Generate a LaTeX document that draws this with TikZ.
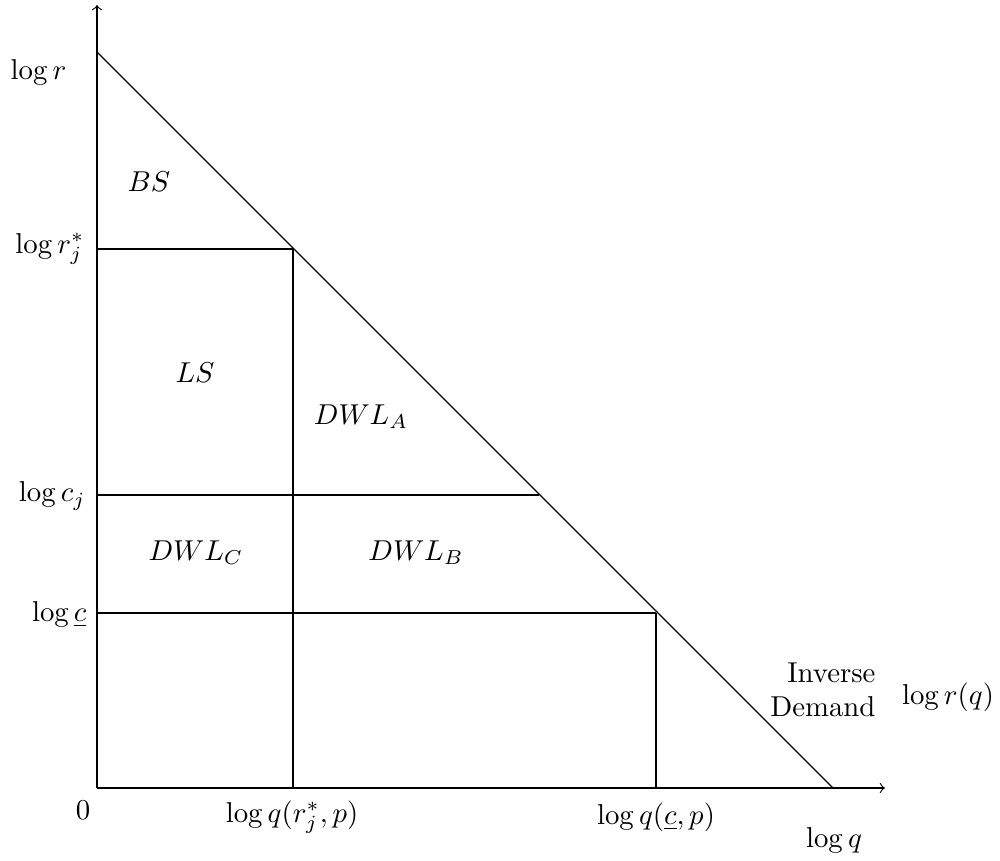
\documentclass[tikz,border=0pt]{standalone}
\usepackage{amsmath}
\begin{document}
\begin{tikzpicture}[x=0.012228cm,y=-0.012228cm,
  lbl/.style={inner sep=0pt},
  axis/.style={->},
  ln/.style={}]
\useasboundingbox (0,0) rectangle (1000,861);
% points
\coordinate (O) at (97,788);
\coordinate (Ytop) at (97,5);
\coordinate (Xend) at (885,788);
\coordinate (D0) at (97,52);
\coordinate (D1) at (833,788);
\coordinate (Ar) at (97,249);
\coordinate (Br) at (293,249);
\coordinate (Ac) at (97,495);
\coordinate (Bc) at (539,495);
\coordinate (Al) at (97,613);
\coordinate (Bl) at (656,613);
\coordinate (Fr) at (293,788);
\coordinate (Fl) at (656,788);
% axes
\draw[axis] (O) -- (Ytop);
\draw[axis] (O) -- (Xend);
% demand
\draw[ln] (D0) -- (D1);
% horizontal lines
\draw[ln] (Ar) -- (Br);
\draw[ln] (Ac) -- (Bc);
\draw[ln] (Al) -- (Bl);
% vertical lines
\draw[ln] (Br) -- (Fr);
\draw[ln] (Bl) -- (Fl);
% axis labels
\node[lbl,anchor=east] (lr) at (67,72) {$\log r$};
\node[lbl,anchor=east] (lrj) at (85,249) {$\log r_j^*$};
\node[lbl,anchor=east] (lcj) at (86,496) {$\log c_j$};
\node[lbl,anchor=east] (lc) at (87,614) {$\log \underline{c}$};
\node[lbl] (zero) at (83,810) {$0$};
\node[lbl] (lqr) at (292,817) {$\log q(r_j^*,p)$};
\node[lbl] (lqc) at (656,817) {$\log q(\underline{c},p)$};
\node[lbl] (lq) at (834,840) {$\log q$};
\node[lbl] (lrq) at (948,697) {$\log r(q)$};
\node[lbl,anchor=east,align=right] (inv) at (876,690) {Inverse\\Demand};
% region labels
\node[lbl] (bs) at (149,182) {$BS$};
\node[lbl] (ls) at (195,373) {$LS$};
\node[lbl] (dwla) at (361,417) {$DWL_A$};
\node[lbl] (dwlc) at (196,553) {$DWL_C$};
\node[lbl] (dwlb) at (416,553) {$DWL_B$};
\end{tikzpicture}
\end{document}
